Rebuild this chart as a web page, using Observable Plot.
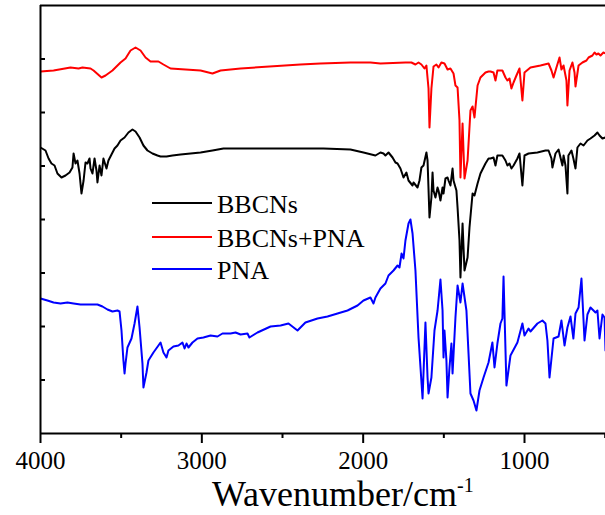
<!DOCTYPE html>
<html>
<head>
<meta charset="utf-8">
<script src="https://cdn.jsdelivr.net/npm/d3@7"></script>
<script src="https://cdn.jsdelivr.net/npm/@observablehq/plot@0.6"></script>
<style>
  html, body { margin: 0; padding: 0; background: #fff; }
  #chart { width: 605px; height: 515px; }
  #chart svg text { font-family: "Liberation Serif", "Times New Roman", serif !important; }
</style>
</head>
<body>
<div id="chart"></div>
<script>
// ---- data ----
const seriesNames = ["BBCNs", "BBCNs+PNA", "PNA"];
const seriesColors = ["#000000", "#ff0000", "#0000ff"];

const bbcnsWn = [4000,3969,3950,3932,3913,3895,3870,3845,3820,3802,3795,3783,3771,3758,3746,3733,3721,3709,3696,3690,3678,3665,3653,3647,3634,3622,3610,3591,3579,3560,3541,3523,3504,3479,3455,3430,3411,3386,3362,3337,3306,3275,3256,3219,3182,3132,3070,3008,2934,2866,2655,2450,2246,2079,1998,1924,1893,1874,1862,1843,1818,1800,1787,1769,1750,1732,1719,1694,1688,1663,1651,1639,1626,1608,1601,1589,1577,1570,1564,1552,1539,1533,1521,1508,1502,1490,1477,1471,1459,1446,1440,1422,1415,1403,1397,1384,1372,1353,1341,1322,1310,1291,1273,1242,1223,1211,1192,1180,1168,1137,1118,1106,1093,1081,1068,1044,1031,1013,1000,975,920,870,851,833,827,808,789,777,765,758,746,734,728,709,697,684,672,653,634,610,591,566,548,535,517,498];
const bbcnsT = [286,283,275,270,268,260,256,258,261,266,280,270,273,260,240,253,271,270,275,265,260,275,263,251,268,258,275,265,273,279,285,288,293,296,301,304,302,296,288,283,280,278,277,277,278,279,280,281,283,285,285,285,285,284,281,278,281,280,278,281,276,271,270,265,256,261,253,248,251,246,253,266,268,281,273,216,236,261,243,236,246,243,233,246,240,255,256,253,248,265,253,243,226,193,156,210,163,176,206,240,238,250,260,270,275,275,276,268,278,278,273,268,270,265,268,275,280,248,278,280,281,283,283,275,266,280,284,276,268,278,268,240,278,283,275,265,286,290,288,293,295,298,301,298,295,296];

const mixWn = [4000,3919,3814,3764,3740,3690,3671,3622,3597,3554,3504,3473,3442,3411,3380,3349,3318,3269,3238,3194,3101,3008,2934,2884,2760,2389,2265,2079,1955,1893,1738,1701,1676,1657,1639,1620,1608,1595,1589,1577,1564,1546,1533,1515,1496,1477,1459,1440,1428,1415,1403,1397,1384,1372,1353,1335,1322,1310,1291,1273,1242,1223,1211,1192,1180,1168,1137,1118,1106,1093,1081,1068,1050,1031,1013,1000,963,901,851,833,820,802,783,771,758,740,734,721,703,690,684,665,641,616,603,579,566,554,542,529,511,498];
const mixT = [362,363,366,365,366,365,363,356,358,363,371,375,383,386,383,376,372,372,369,365,364,363,360,363,365,369,370,371,371,370,371,371,369,371,369,365,368,345,306,345,367,369,366,371,370,364,365,360,348,346,313,256,310,255,273,323,327,316,348,356,361,362,362,361,353,363,363,356,353,355,345,351,358,365,333,361,366,368,370,363,356,366,376,364,368,353,328,363,371,361,347,368,371,373,376,378,381,379,380,378,381,380];

const pnaWn = [4000,3957,3919,3876,3833,3795,3752,3690,3647,3616,3585,3554,3523,3510,3498,3486,3479,3473,3461,3436,3417,3399,3386,3368,3362,3343,3331,3300,3269,3256,3238,3219,3207,3176,3145,3120,3107,3095,3083,3058,3027,2990,2946,2903,2872,2822,2791,2760,2717,2705,2655,2574,2512,2463,2407,2358,2283,2221,2159,2097,2035,1998,1955,1936,1924,1893,1862,1843,1812,1787,1775,1762,1750,1738,1719,1707,1694,1676,1657,1632,1614,1601,1595,1577,1558,1539,1521,1508,1502,1496,1484,1477,1465,1453,1446,1428,1415,1397,1384,1360,1347,1335,1316,1298,1279,1254,1223,1199,1186,1168,1149,1137,1130,1112,1087,1044,1013,1000,975,963,920,889,870,858,845,820,789,771,752,734,715,697,684,665,647,628,610,591,560,548,535,517,504,498];
const pnaT = [135,133,131,130,131,130,129,129,129,127,124,122,123,122,103,73,60,70,86,95,110,127,106,70,46,61,73,81,88,91,81,76,83,87,88,91,85,90,86,91,95,96,98,97,100,100,101,99,100,96,101,107,108,110,103,111,115,117,120,123,128,133,136,130,136,145,150,158,163,168,166,180,175,193,210,214,200,163,96,35,111,56,40,56,103,123,154,123,76,103,73,36,66,90,60,116,148,131,150,123,80,40,33,23,43,56,71,91,66,90,110,115,157,48,78,91,110,98,105,102,110,113,110,93,56,95,97,113,88,106,117,95,120,126,155,93,119,126,121,123,95,119,116,83];

const xMajorTicks = [4000, 3000, 2000, 1000];
const xMinorTicks = [3500, 2500, 1500, 500];
const yTicks = [53.5, 107, 160.5, 214, 267.5, 321, 374.5];

// ---- build tables ----
const toRows = (wn, t, name) => wn.map((w, i) => ({wn: w, t: t[i], series: name}));
const rowsBBCNs = toRows(bbcnsWn, bbcnsT, seriesNames[0]);
const rowsMix = toRows(mixWn, mixT, seriesNames[1]);
const rowsPNA = toRows(pnaWn, pnaT, seriesNames[2]);

const FONT = "'Liberation Serif', 'Times New Roman', serif";

const chart = Plot.plot({
  width: 605,
  height: 515,
  marginLeft: 40,
  marginRight: 0,
  marginTop: 5,
  marginBottom: 82,
  style: {fontFamily: FONT, color: "#000", background: "#fff", overflow: "visible"},
  x: {domain: [4000, 498]},
  y: {domain: [0, 428]},
  marks: [
    Plot.line(rowsBBCNs, {x: "wn", y: "t", stroke: seriesColors[0], strokeWidth: 2, clip: true}),
    Plot.line(rowsMix, {x: "wn", y: "t", stroke: seriesColors[1], strokeWidth: 2, clip: true}),
    Plot.line(rowsPNA, {x: "wn", y: "t", stroke: seriesColors[2], strokeWidth: 2, clip: true}),
    Plot.ruleX([4000], {stroke: "#000", strokeWidth: 2}),
    Plot.ruleY([0, 428], {stroke: "#000", strokeWidth: 2}),
    Plot.axisX(xMajorTicks, {tickSize: 10, tickPadding: 8, fontSize: 25, fontFamily: FONT, strokeWidth: 2, label: null, tickFormat: d => String(d)}),
    Plot.axisX(xMinorTicks, {tickSize: 5, strokeWidth: 2, label: null, tickFormat: () => ""}),
    Plot.axisY(yTicks, {tickSize: 5, dx: 5, strokeWidth: 2, label: null, tickFormat: () => ""})
  ]
});

document.getElementById("chart").appendChild(chart);

// ---- legend and axis title ----
const svg = d3.select(chart);
const legend = svg.append("g").attr("font-family", FONT).attr("text-anchor", "start");
const legendY = [203, 237, 269];
seriesNames.forEach((name, i) => {
  legend.append("line")
    .attr("x1", 152).attr("x2", 212)
    .attr("y1", legendY[i]).attr("y2", legendY[i])
    .attr("stroke", seriesColors[i]).attr("stroke-width", 2);
  legend.append("text")
    .attr("x", 217).attr("y", legendY[i] + 10)
    .attr("text-anchor", "start")
    .attr("font-size", 26).attr("fill", "#000")
    .text(name);
});

const title = svg.append("text")
  .attr("x", 212).attr("y", 506)
  .attr("text-anchor", "start")
  .attr("font-family", FONT).attr("font-size", 36).attr("fill", "#000");
title.append("tspan").text("Wavenumber/cm");
title.append("tspan").attr("font-size", 20).attr("dy", -14).text("-1");
</script>
</body>
</html>
